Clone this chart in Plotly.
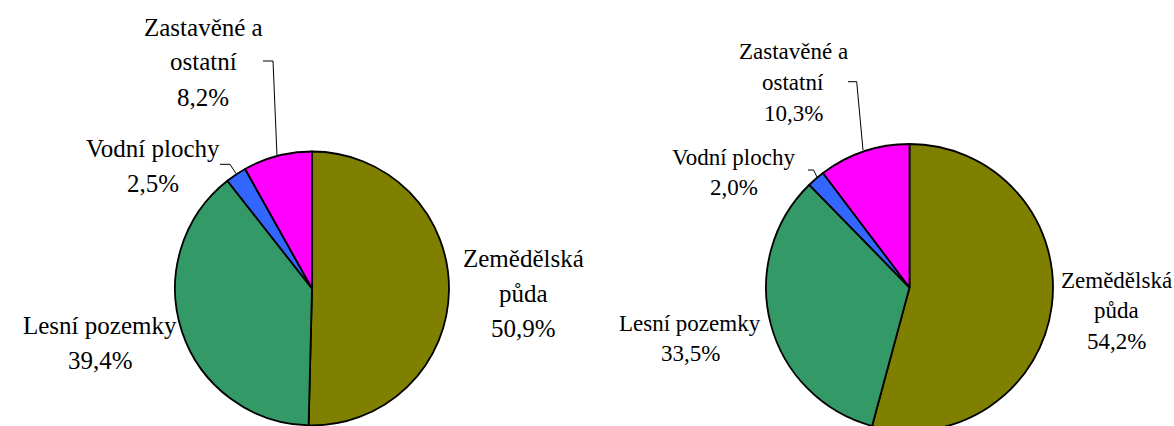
import plotly.graph_objects as go

# ---- data ----
categories = ["Zemědělská půda", "Lesní pozemky", "Vodní plochy", "Zastavěné a ostatní"]
values_left = [50.9, 39.4, 2.5, 8.2]
values_right = [54.2, 33.5, 2.0, 10.3]
label_lines = [["Zemědělská", "půda"], ["Lesní pozemky"], ["Vodní plochy"], ["Zastavěné a", "ostatní"]]

# ---- styling / layout ----
colors = ["#808000", "#339966", "#3366FF", "#FF00FF"]
W, H = 1174, 440
FONT = "Liberation Serif"

def px_x(px):
    return px / W

def px_y(py):
    return 1 - py / H

def dom(cx, cy, r):
    return dict(x=[px_x(cx - r), px_x(cx + r)], y=[max(0, px_y(cy + r)), px_y(cy - r)])

pies = [
    dict(values=values_left, center=(312, 288.5), r=137, font=25, pitch=35,
         pos=[(523, 258), (100, 325), (153, 148), (203, 27)],
         leaders=[None, None,
                  [(220, 164.3), (230, 164.3), (236, 173.5)],
                  [(263, 61), (273, 61), (277, 156)]]),
    dict(values=values_right, center=(909.5, 287.5), r=143.5, font=23, pitch=30.5,
         pos=[(1116, 280), (690, 323), (733.5, 157), (793, 52)],
         leaders=[None, None,
                  [(808, 170), (813.5, 170), (817, 177)],
                  [(848, 81.7), (856.7, 81.7), (863, 150)]]),
]

def fmt(v):
    return f"{v:.1f}".replace(".", ",") + "%"

fig = go.Figure()
for p in pies:
    cx, cy = p["center"]
    fig.add_trace(go.Pie(
        labels=categories, values=p["values"], sort=False, direction="clockwise",
        rotation=0, textinfo="none", hoverinfo="label+percent",
        marker=dict(colors=colors, line=dict(color="black", width=1.8)),
        domain=dom(cx, cy, p["r"]), showlegend=False,
    ))
    for i, cat in enumerate(categories):
        lines = label_lines[i] + [fmt(p["values"][i])]
        x0, y0 = p["pos"][i]
        for k, t in enumerate(lines):
            fig.add_annotation(
                text=t, x=px_x(x0), y=px_y(y0 + k * p["pitch"]), xref="paper", yref="paper",
                xanchor="center", yanchor="middle", showarrow=False,
                font=dict(family=FONT, size=p["font"], color="black"),
            )
        ld = p["leaders"][i]
        if ld:
            path = "M " + " L ".join(f"{px_x(a)},{px_y(b)}" for a, b in ld)
            fig.add_shape(type="path", path=path, xref="paper", yref="paper",
                          line=dict(color="black", width=1))

fig.update_layout(
    template="none",
    width=W, height=H, margin=dict(l=0, r=0, t=0, b=0),
    paper_bgcolor="white", plot_bgcolor="white",
)

fig.write_html("out.html", config={"displayModeBar": False},
               post_script="document.body.style.margin='0';document.body.style.overflow='hidden';document.documentElement.style.overflow='hidden';")
